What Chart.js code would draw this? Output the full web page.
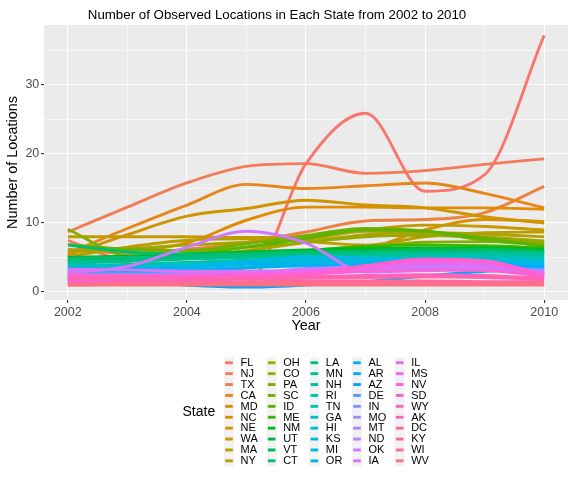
<!DOCTYPE html>
<html lang="en">
<head>
<meta charset="UTF-8">
<title>Number of Observed Locations</title>
<script src="https://cdn.jsdelivr.net/npm/chart.js@4.4.0/dist/chart.umd.min.js"></script>
<style>
  body { margin: 0; background: #ffffff; }
  #wrap { width: 576px; height: 480px; }
</style>
</head>
<body>
<div id="wrap"><canvas id="canvas" width="576" height="480"></canvas></div>
<script>
// years on the x axis, one value per year for every state (smoothed curve)
const years = [2002, 2003, 2004, 2005, 2006, 2007, 2008, 2009, 2010];
const xTicks = [2002, 2004, 2006, 2008, 2010];
const xMinor = [2003, 2005, 2007, 2009];
const yTicks = [0, 10, 20, 30];
const yMinor = [5, 15, 25, 35];

// legend order (sorted by 2010 count)
const states = ['FL','NJ','TX','CA','MD','NC','NE','WA','MA','NY',
                'OH','CO','PA','SC','ID','ME','NM','UT','VT','CT',
                'LA','MN','NH','RI','TN','GA','HI','KS','MI','OR',
                'AL','AR','AZ','DE','IN','MO','MT','ND','OK','IA',
                'IL','MS','NV','SD','WY','AK','DC','KY','WI','WV'];

const FL = [7.5, 4.2, 2.2, 1.4, 18.6, 25.9, 14.6, 17.0, 37.2];
const NJ = [8.7, 12.3, 15.8, 18.2, 18.6, 17.2, 17.6, 18.5, 19.3];
const TX = [6.2, 5.6, 6.2, 7.2, 8.7, 10.3, 10.5, 11.5, 15.3];
const CA = [5.6, 9.2, 12.6, 15.6, 15.0, 15.4, 15.8, 14.3, 12.2];
const MD = [5.9, 6.0, 7.1, 10.4, 12.3, 12.3, 12.2, 12.2, 12.0];
const NC = [5.5, 2.3, 2.6, 3.5, 4.6, 6.1, 9.0, 10.5, 10.2];
const NE = [5.3, 8.3, 11.0, 12.1, 13.3, 12.6, 12.2, 10.9, 10.0];
const WA = [8.0, 8.0, 8.0, 7.9, 8.0, 9.0, 9.7, 9.5, 9.0];
const MA = [5.1, 6.5, 7.5, 7.7, 7.3, 6.8, 8.0, 8.6, 8.7];
const NY = [4.5, 4.8, 5.2, 6.0, 7.2, 8.3, 8.6, 8.4, 8.0];
const OH = [6.0, 6.3, 6.8, 7.2, 7.6, 8.8, 8.6, 8.0, 7.4];
const CO = [4.0, 4.8, 5.6, 6.5, 7.2, 8.0, 8.2, 7.8, 7.2];
const PA = [9.1, 5.2, 4.9, 5.3, 6.0, 6.6, 7.2, 7.3, 7.0];
const SC = [6.9, 6.2, 6.0, 7.0, 8.2, 9.2, 8.8, 7.5, 6.8];
const ID = [4.8, 5.0, 5.4, 6.5, 7.8, 9.0, 8.8, 7.8, 6.6];
const ME = [4.5, 4.7, 5.0, 5.5, 6.0, 6.6, 6.8, 6.7, 6.4];
const NM = [5.0, 5.2, 5.5, 5.8, 6.1, 6.3, 6.4, 6.4, 6.2];
const UT = [4.6, 4.8, 5.0, 5.4, 5.8, 6.0, 6.2, 6.2, 6.0];
const VT = [4.2, 4.5, 4.8, 5.2, 5.6, 5.8, 6.0, 6.1, 5.9];
const CT = [6.8, 5.8, 5.5, 5.6, 5.8, 5.8, 5.9, 6.0, 5.8];
const LA = [4.9, 5.0, 5.1, 5.3, 5.5, 5.6, 5.8, 5.8, 5.6];
const MN = [4.4, 4.5, 4.8, 5.0, 5.3, 5.4, 5.6, 5.6, 5.5];
const NH = [3.8, 4.0, 4.3, 4.6, 5.0, 5.2, 5.4, 5.5, 5.3];
const RI = [3.5, 3.8, 4.2, 4.5, 4.8, 5.0, 5.2, 5.2, 5.0];
const TN = [4.0, 3.9, 4.0, 4.3, 4.6, 4.8, 5.0, 5.0, 4.9];
const GA = [3.6, 3.8, 4.0, 4.2, 4.5, 4.7, 4.9, 4.9, 4.7];
const HI = [2.5, 2.8, 3.2, 3.6, 4.0, 4.3, 4.6, 4.6, 4.5];
const KS = [3.2, 3.4, 3.8, 4.5, 5.0, 4.8, 4.6, 4.5, 4.3];
const MI = [2.8, 3.0, 3.5, 4.4, 5.1, 4.9, 4.5, 4.3, 4.1];
const OR = [3.0, 3.3, 3.6, 4.0, 4.3, 4.3, 4.2, 4.1, 4.0];
const AL = [2.0, 2.5, 3.0, 3.5, 3.8, 3.9, 3.9, 3.9, 3.8];
const AR = [3.4, 3.2, 3.0, 3.0, 3.1, 3.3, 3.5, 3.6, 3.6];
const AZ = [1.8, 1.5, 1.0, 0.7, 1.0, 1.5, 2.3, 3.0, 3.5];
const DE = [2.2, 2.4, 2.6, 2.9, 3.1, 3.2, 3.3, 3.4, 3.3];
const IN = [2.6, 2.6, 2.7, 2.8, 2.9, 3.1, 3.3, 3.3, 3.2];
const MO = [2.4, 2.5, 2.6, 2.8, 3.0, 3.2, 3.4, 3.3, 3.1];
const MT = [1.5, 1.8, 2.2, 2.6, 3.0, 3.3, 3.5, 3.4, 3.0];
const ND = [1.8, 2.0, 2.3, 2.6, 3.4, 3.6, 3.7, 3.5, 2.9];
const OK = [2.8, 3.7, 6.5, 8.8, 7.1, 2.9, 3.1, 3.2, 2.8];
const IA = [3.3, 3.2, 3.0, 3.0, 3.2, 3.5, 3.8, 3.6, 2.7];
const IL = [2.2, 2.3, 2.5, 2.7, 3.0, 3.6, 4.2, 4.0, 2.6];
const MS = [1.5, 1.8, 2.2, 2.5, 2.8, 3.5, 4.3, 4.3, 2.5];
const NV = [2.0, 2.1, 2.3, 2.5, 2.8, 3.8, 4.6, 4.5, 2.4];
const SD = [1.8, 2.0, 2.2, 2.4, 2.6, 3.0, 3.2, 3.1, 2.3];
const WY = [2.5, 2.4, 2.3, 2.3, 2.5, 3.8, 4.8, 4.5, 2.2];
const AK = [1.3, 1.5, 1.7, 2.0, 2.2, 2.4, 2.5, 2.4, 2.0];
const DC = [2.0, 2.0, 1.9, 1.9, 2.0, 2.1, 2.2, 2.1, 1.8];
const KY = [1.2, 1.3, 1.4, 1.5, 1.6, 1.6, 1.6, 1.5, 1.5];
const WI = [1.0, 1.1, 1.2, 1.3, 1.3, 1.3, 1.3, 1.2, 1.2];
const WV = [1.0, 1.0, 1.0, 1.0, 1.0, 1.0, 1.0, 1.0, 1.0];

const stateValues = [FL, NJ, TX, CA, MD, NC, NE, WA, MA, NY,
                     OH, CO, PA, SC, ID, ME, NM, UT, VT, CT,
                     LA, MN, NH, RI, TN, GA, HI, KS, MI, OR,
                     AL, AR, AZ, DE, IN, MO, MT, ND, OK, IA,
                     IL, MS, NV, SD, WY, AK, DC, KY, WI, WV];

const FONT = '"Liberation Sans", Arial, Helvetica, sans-serif';

// ggplot style hue palette (hcl, c=100, l=65)
function hcl(h, c, l) {
  const hr = h * Math.PI / 180;
  const Xn = 95.047, Yn = 100, Zn = 108.883;
  const den = Xn + 15 * Yn + 3 * Zn;
  const un = 4 * Xn / den, vn = 9 * Yn / den;
  const Y = Yn * (l > 8 ? Math.pow((l + 16) / 116, 3) : l / 903.3);
  const u = c * Math.cos(hr) / (13 * l) + un;
  const v = c * Math.sin(hr) / (13 * l) + vn;
  const X = 9 * Y * u / (4 * v);
  const Z = -X / 3 - 5 * Y + 3 * Y / v;
  const x = X / 100, y = Y / 100, z = Z / 100;
  const lin = [
    3.240479 * x - 1.537150 * y - 0.498535 * z,
    -0.969256 * x + 1.875992 * y + 0.041556 * z,
    0.055648 * x - 0.204043 * y + 1.057311 * z
  ];
  const out = lin.map(t => {
    let g = t <= 0.0031308 ? 12.92 * t : 1.055 * Math.pow(t, 1 / 2.4) - 0.055;
    g = Math.min(1, Math.max(0, g));
    return Math.round(g * 255);
  });
  return 'rgb(' + out.join(',') + ')';
}
const colors = states.map((s, i) => hcl(15 + 360 * i / states.length, 100, 65));

const datasets = states.map((s, i) => ({
  label: s,
  data: years.map((yr, j) => ({ x: yr, y: stateValues[i][j] })),
  borderColor: colors[i],
  backgroundColor: colors[i],
  borderWidth: 2.9,
  pointRadius: 0,
  cubicInterpolationMode: 'monotone',
  fill: false,
  order: -i
}));

const decor = {
  id: 'decor',
  beforeDraw(chart) {
    const { ctx, chartArea: a } = chart;
    ctx.save();
    ctx.fillStyle = '#EBEBEB';
    ctx.fillRect(a.left, a.top, a.right - a.left, a.bottom - a.top);
    ctx.restore();
  },
  afterDraw(chart) {
    const ctx = chart.ctx;
    ctx.save();
    // title
    ctx.fillStyle = '#000000';
    ctx.font = '13.3px ' + FONT;
    ctx.textAlign = 'center';
    ctx.textBaseline = 'alphabetic';
    ctx.fillText('Number of Observed Locations in Each State from 2002 to 2010', 277, 19.3);

    // legend
    ctx.textAlign = 'left';
    ctx.textBaseline = 'middle';
    ctx.font = '14px ' + FONT;
    ctx.fillText('State', 182.5, 412);
    ctx.font = '11px ' + FONT;
    for (let i = 0; i < states.length; i++) {
      const col = Math.floor(i / 10), row = i % 10;
      const kx = 224 + col * 42.67, ky = 357.3 + row * 10.9;
      ctx.fillStyle = '#F2F2F2';
      ctx.fillRect(kx, ky, 10, 10.9);
      ctx.strokeStyle = colors[i];
      ctx.lineWidth = 2.9;
      ctx.beginPath();
      ctx.moveTo(kx + 1.2, ky + 5.45);
      ctx.lineTo(kx + 8.8, ky + 5.45);
      ctx.stroke();
      ctx.fillStyle = '#000000';
      ctx.fillText(states[i], kx + 16.5, ky + 5.7);
    }
    ctx.restore();
  }
};

const isMajorX = c => c.tick && xTicks.includes(c.tick.value);
const isMajorY = c => c.tick && yTicks.includes(c.tick.value);

new Chart(document.getElementById('canvas').getContext('2d'), {
  type: 'line',
  data: { datasets: datasets },
  options: {
    responsive: false,
    animation: false,
    events: [],
    layout: { padding: { top: 25, right: 8, left: 0, bottom: 143 } },
    plugins: {
      legend: { display: false },
      tooltip: { enabled: false },
      title: { display: false }
    },
    scales: {
      x: {
        type: 'linear',
        min: 2001.6,
        max: 2010.4,
        afterBuildTicks: s => { s.ticks = xTicks.concat(xMinor).sort().map(v => ({ value: v })); },
        afterFit: s => { s.height = 37; },
        border: { display: false },
        grid: {
          color: '#FFFFFF',
          lineWidth: c => isMajorX(c) ? 1.1 : 0.55,
          tickLength: 3,
          tickWidth: 1.1,
          tickColor: c => isMajorX(c) ? '#333333' : 'rgba(0,0,0,0)'
        },
        ticks: {
          autoSkip: false,
          maxRotation: 0,
          padding: 1.8,
          color: '#4D4D4D',
          font: { family: FONT, size: 12.5 },
          callback: v => xTicks.includes(v) ? String(v) : ''
        },
        title: {
          display: true,
          text: 'Year',
          color: '#000000',
          font: { family: FONT, size: 14.4 },
          padding: { top: 0, bottom: 2 }
        }
      },
      y: {
        type: 'linear',
        min: -1.16,
        max: 38.7,
        afterBuildTicks: s => { s.ticks = yTicks.concat(yMinor).sort((a, b) => a - b).map(v => ({ value: v })); },
        afterFit: s => { s.width = 44; },
        border: { display: false },
        grid: {
          color: '#FFFFFF',
          lineWidth: c => isMajorY(c) ? 1.1 : 0.55,
          tickLength: 3,
          tickWidth: 1.1,
          tickColor: c => isMajorY(c) ? '#333333' : 'rgba(0,0,0,0)'
        },
        ticks: {
          autoSkip: false,
          padding: 1.7,
          color: '#4D4D4D',
          font: { family: FONT, size: 12.5 },
          callback: v => yTicks.includes(v) ? String(v) : ''
        },
        title: {
          display: true,
          text: 'Number of Locations',
          color: '#000000',
          font: { family: FONT, size: 14.4 },
          padding: { top: 4.8, bottom: 0 }
        }
      }
    }
  },
  plugins: [decor]
});
</script>
</body>
</html>
